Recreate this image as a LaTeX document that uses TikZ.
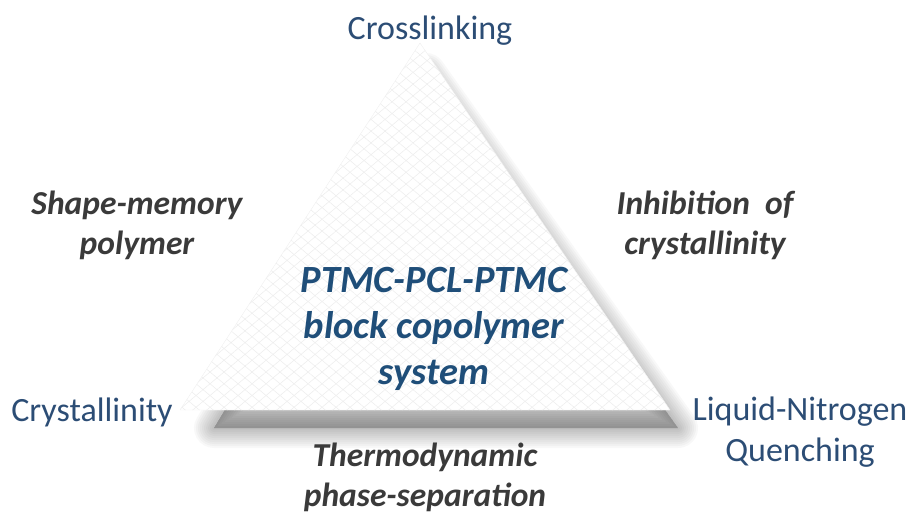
\documentclass[tikz,border=0pt]{standalone}
\usepackage{fontspec}
\setmainfont{Carlito}
\usepackage{tikz}
\usetikzlibrary{calc, patterns.meta}
\definecolor{vertexblue}{HTML}{2C4D75}
\definecolor{coreblue}{HTML}{1F4E79}
\definecolor{edgegray}{HTML}{3A3A3A}

\begin{document}
\begin{tikzpicture}[x=1pt, y=-1pt,
    vertex/.style={font=\fontsize{34}{41}\selectfont, text=vertexblue, align=center},
    edgelabel/.style={font=\fontsize{33.5}{40}\selectfont\bfseries\itshape, text=edgegray, align=center},
    core/.style={font=\fontsize{38.5}{46}\selectfont\bfseries\itshape, text=coreblue, align=center}]
          \useasboundingbox (0,0) rectangle (907,513);
          % corners of the triangle
          \coordinate (apex) at (420,43);
          \coordinate (left) at (180,410);
          \coordinate (right) at (670,410);
          % soft shadow
          \foreach \w in {40,36,32,28,24,20,16,12,8,4}
            \filldraw[black, opacity=0.026, line width=\w pt, line join=round]
              ($(apex)+(6,30)$) -- ($(left)+(34,18)$) -- ($(right)+(8,18)$) -- cycle;
          % triangle
          \fill[white] (apex) -- (left) -- (right) -- cycle;
          \fill[pattern={Lines[angle=40, distance=9pt, line width=0.5pt]}, pattern color=gray!14]
            (apex) -- (left) -- (right) -- cycle;
          \fill[pattern={Lines[angle=-40, distance=9pt, line width=0.5pt]}, pattern color=gray!14]
            (apex) -- (left) -- (right) -- cycle;
          \draw[gray!12, line join=round] (apex) -- (left) -- (right) -- cycle;
          % labels
          \node[vertex] (crosslink) at (430,31) {Crosslinking};
          \node[vertex] (crystal) at (92,412) {Crystallinity};
          \node[vertex] (quench) at (800,432) {Liquid-Nitrogen\\Quenching};
          \node[edgelabel] (shapemem) at (137,225) {Shape-memory\\polymer};
          \node[edgelabel] (inhibit) at (705,225) {Inhibition\ \ of\\crystallinity};
          \node[edgelabel] (thermo) at (425,477) {Thermodynamic\\phase-separation};
          \node[core] (system) at (434,329) {PTMC-PCL-PTMC\\block copolymer\\system};
        \end{tikzpicture}
\end{document}
